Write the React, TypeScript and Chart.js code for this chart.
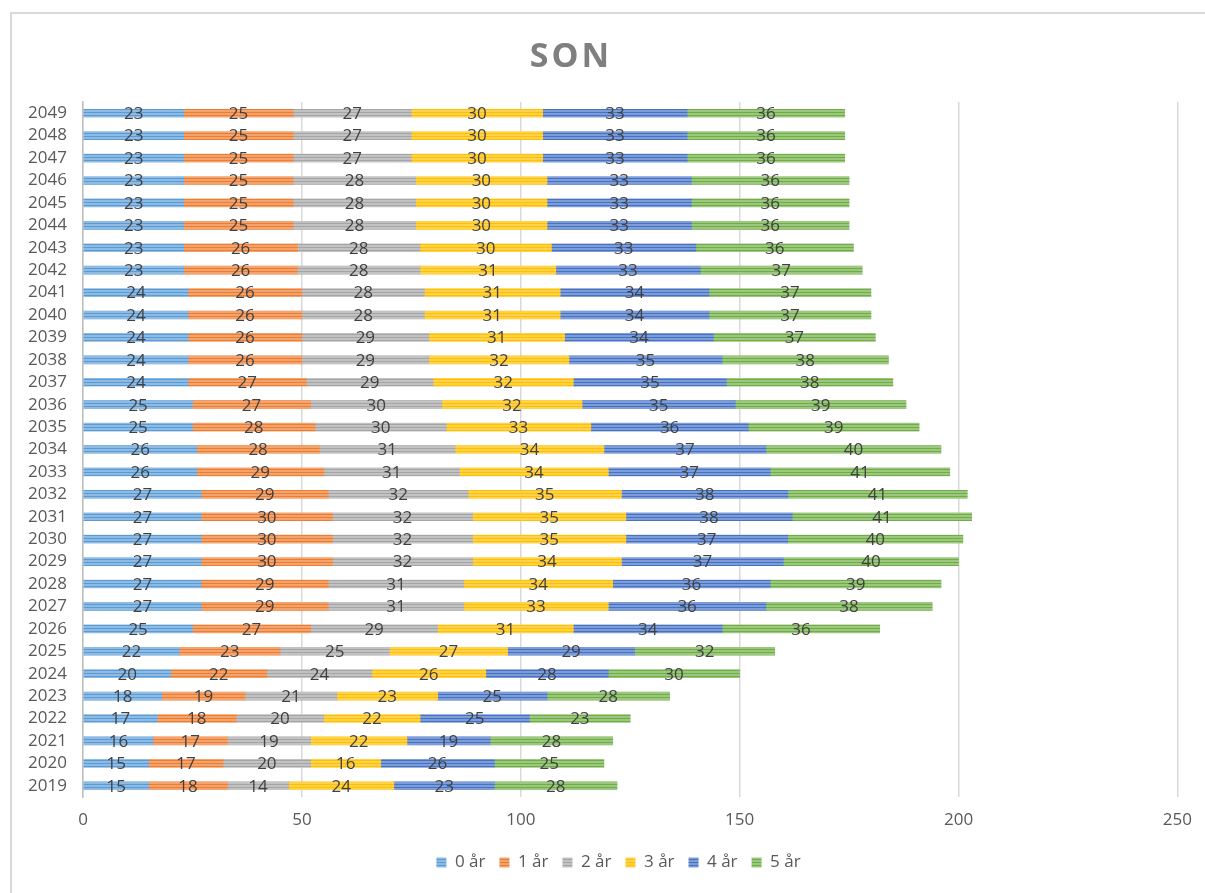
import React, { useEffect, useRef } from "react";
import { Chart, registerables } from "chart.js";

Chart.register(...registerables);

const years = [
  "2019", "2020", "2021", "2022", "2023", "2024", "2025", "2026", "2027", "2028",
  "2029", "2030", "2031", "2032", "2033", "2034", "2035", "2036", "2037", "2038",
  "2039", "2040", "2041", "2042", "2043", "2044", "2045", "2046", "2047", "2048", "2049",
];

const age0 = [15, 15, 16, 17, 18, 20, 22, 25, 27, 27, 27, 27, 27, 27, 26, 26, 25, 25, 24, 24, 24, 24, 24, 23, 23, 23, 23, 23, 23, 23, 23];
const age1 = [18, 17, 17, 18, 19, 22, 23, 27, 29, 29, 30, 30, 30, 29, 29, 28, 28, 27, 27, 26, 26, 26, 26, 26, 26, 25, 25, 25, 25, 25, 25];
const age2 = [14, 20, 19, 20, 21, 24, 25, 29, 31, 31, 32, 32, 32, 32, 31, 31, 30, 30, 29, 29, 29, 28, 28, 28, 28, 28, 28, 28, 27, 27, 27];
const age3 = [24, 16, 22, 22, 23, 26, 27, 31, 33, 34, 34, 35, 35, 35, 34, 34, 33, 32, 32, 32, 31, 31, 31, 31, 30, 30, 30, 30, 30, 30, 30];
const age4 = [23, 26, 19, 25, 25, 28, 29, 34, 36, 36, 37, 37, 38, 38, 37, 37, 36, 35, 35, 35, 34, 34, 34, 33, 33, 33, 33, 33, 33, 33, 33];
const age5 = [28, 25, 28, 23, 28, 30, 32, 36, 38, 39, 40, 40, 41, 41, 41, 40, 39, 39, 38, 38, 37, 37, 37, 37, 36, 36, 36, 36, 36, 36, 36];

const seriesNames = ["0 år", "1 år", "2 år", "3 år", "4 år", "5 år"];
const seriesValues = [age0, age1, age2, age3, age4, age5];
const baseColors = ["#5B9BD5", "#ED7D31", "#A5A5A5", "#FFC000", "#4472C4", "#70AD47"];
const lightColors = ["#8DBBE3", "#F3A36E", "#C2C2C2", "#FFD24D", "#7E9DD6", "#9CC77F"];

const xTicks = [0, 50, 100, 150, 200, 250];
const titleText = "SON";

const FONT = "'Open Sans', 'Noto Sans', sans-serif";

function stripe(base: string, light: string) {
  const c = document.createElement("canvas");
  c.width = 4;
  c.height = 3;
  const ctx = c.getContext("2d")!;
  ctx.fillStyle = light;
  ctx.fillRect(0, 0, 4, 3);
  ctx.fillStyle = base;
  ctx.fillRect(0, 1, 4, 1);
  return ctx.createPattern(c, "repeat")!;
}

const segLabels = {
  id: "segLabels",
  afterDatasetsDraw(chart: any) {
    const ctx = chart.ctx;
    ctx.save();
    ctx.font = `17px ${FONT}`;
    ctx.fillStyle = "#404040";
    ctx.textAlign = "center";
    ctx.textBaseline = "middle";
    chart.data.datasets.forEach((ds: any, i: number) => {
      const meta = chart.getDatasetMeta(i);
      meta.data.forEach((bar: any, j: number) => {
        const p = bar.getProps(["x", "y", "base"], true);
        ctx.fillText(String(ds.data[j]), (p.x + p.base) / 2, p.y + 1);
      });
    });
    ctx.restore();
  },
};

const titlePlugin = {
  id: "spacedTitle",
  afterLayout(chart: any) {
    if (chart.legend) {
      chart.legend.left += 58;
    }
  },
  afterDraw(chart: any) {
    const ctx = chart.ctx;
    ctx.save();
    ctx.font = `bold 34px ${FONT}`;
    (ctx as any).letterSpacing = "3px";
    ctx.fillStyle = "#7F7F7F";
    ctx.textAlign = "center";
    ctx.textBaseline = "middle";
    ctx.fillText(titleText, 571, 57);
    ctx.restore();
  },
};

export default function App() {
  const ref = useRef<HTMLCanvasElement | null>(null);

  useEffect(() => {
    document.body.style.overflow = "hidden";
    const canvas = ref.current!;
    const chart = new Chart(canvas, {
      type: "bar",
      data: {
        labels: years,
        datasets: seriesValues.map((vals, i) => ({
          label: seriesNames[i],
          data: vals,
          backgroundColor: stripe(baseColors[i], lightColors[i]) as any,
          borderWidth: 0,
          barThickness: 8,
        })),
      },
      options: {
        responsive: false,
        animation: false,
        indexAxis: "y",
        layout: { padding: { left: 0, right: 26, top: 102, bottom: 12 } },
        plugins: {
          title: { display: false },
          tooltip: { enabled: false },
          legend: {
            position: "bottom",
            labels: {
              boxWidth: 10,
              boxHeight: 10,
              padding: 14,
              color: "#595959",
              font: { size: 17, family: FONT },
            },
          },
        },
        scales: {
          x: {
            type: "linear",
            stacked: true,
            min: 0,
            max: 250,
            afterBuildTicks: (s: any) => {
              s.ticks = xTicks.map((v) => ({ value: v }));
            },
            ticks: { color: "#595959", font: { size: 17, family: FONT }, padding: 13 },
            grid: { color: "#D9D9D9", lineWidth: 1.5, drawTicks: false },
            border: { display: false },
            afterFit: (s: any) => {
              s.height = 43;
            },
          },
          y: {
            stacked: true,
            reverse: true,
            grid: { display: false, drawTicks: false },
            border: { display: true, color: "#BFBFBF", width: 1.5 },
            ticks: { color: "#595959", font: { size: 17, family: FONT }, padding: 16, autoSkip: false },
            afterFit: (s: any) => {
              s.width = 83;
            },
          },
        },
      },
      plugins: [segLabels, titlePlugin],
    });
    return () => chart.destroy();
  }, []);

  return (
    <div style={{ position: "fixed", left: 0, top: 0, width: 1205, height: 893, overflow: "hidden", background: "#fff" }}>
      <div
        style={{
          position: "absolute",
          left: 10,
          top: 12,
          width: 1300,
          height: 1000,
          border: "2px solid #D9D9D9",
          boxSizing: "border-box",
        }}
      />
      <canvas
        ref={ref}
        width={1205}
        height={893}
        style={{ position: "absolute", left: 0, top: 0, width: 1205, height: 893 }}
      />
    </div>
  );
}
